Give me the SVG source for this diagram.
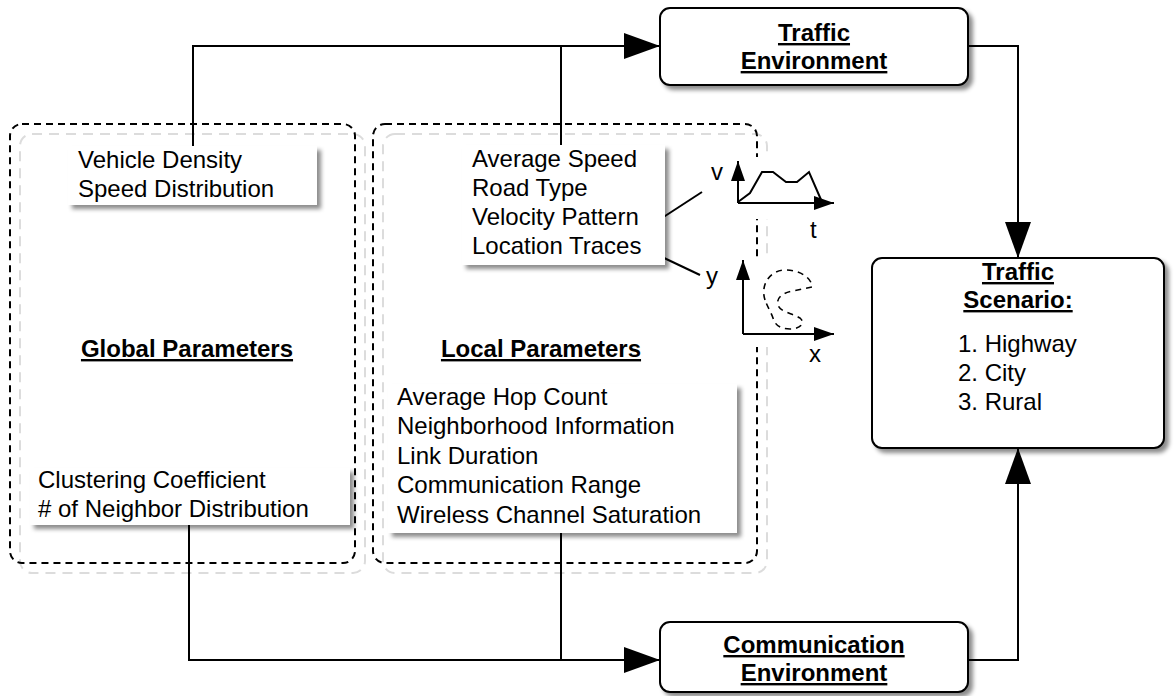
<svg xmlns="http://www.w3.org/2000/svg" width="1174" height="696" viewBox="0 0 1174 696">
  <defs>
    <style>
      text { font-family: "Liberation Sans", Arial, Helvetica, sans-serif; font-size: 24px; fill: #000; }
      .title { font-weight: bold; text-decoration: underline; text-anchor: middle; }
      .frame { fill: none; stroke: #000; stroke-width: 2; stroke-dasharray: 7 5; }
      .frame-shade { fill: none; stroke: #dcdcdc; stroke-width: 2; stroke-dasharray: 10 7; }
      .node { fill: #fff; stroke: #000; stroke-width: 2; filter: url(#shadow); }
      .card { fill: #fff; filter: url(#shadow); }
      .conn { fill: none; stroke: #000; stroke-width: 2; }
      .axis { fill: none; stroke: #000; stroke-width: 2; marker-end: url(#axisHead); }
      .plot { fill: none; stroke: #000; stroke-width: 2; }
      .trace { fill: none; stroke: #000; stroke-width: 1.6; stroke-dasharray: 6 5; }
    </style>
    <filter id="shadow" x="-10%" y="-10%" width="130%" height="150%">
      <feDropShadow dx="4" dy="4" stdDeviation="2" flood-color="#000" flood-opacity="0.45"/>
    </filter>
    <marker id="arrowHead" markerUnits="userSpaceOnUse" markerWidth="36" markerHeight="26" refX="36" refY="13" orient="auto">
      <path d="M0,0 L36,13 L0,26 Z" fill="#000"/>
    </marker>
    <marker id="axisHead" markerUnits="userSpaceOnUse" markerWidth="20" markerHeight="14" refX="20" refY="7" orient="auto">
      <path d="M0,0 L20,7 L0,14 Z" fill="#000"/>
    </marker>
  </defs>

  <rect width="1174" height="696" fill="#fff"/>

  <!-- parameter groups (dashed frames with a light offset outline) -->
  <g id="global-parameters">
    <rect class="frame-shade" x="20" y="134" width="345" height="439" rx="12"/>
    <rect class="frame" x="10" y="124" width="345" height="439" rx="12"/>
    <text class="title" x="187" y="357">Global Parameters</text>
  </g>
  <g id="local-parameters">
    <rect class="frame-shade" x="383" y="134" width="384" height="439" rx="12"/>
    <rect class="frame" x="373" y="124" width="384" height="439" rx="12"/>
    <text class="title" x="541" y="357">Local Parameters</text>
  </g>

  <!-- connectors -->
  <g id="connectors">
    <path class="conn" d="M193,146 V46 H660" marker-end="url(#arrowHead)"/>
    <path class="conn" d="M561,145 V46"/>
    <path class="conn" d="M189,525 V660 H660" marker-end="url(#arrowHead)"/>
    <path class="conn" d="M561,533 V660"/>
    <path class="conn" d="M968,46 H1018 V258" marker-end="url(#arrowHead)"/>
    <path class="conn" d="M968,660 H1018 V448" marker-end="url(#arrowHead)"/>
    <path class="conn" d="M662,218 L702,192"/>
    <path class="conn" d="M662,257 L700,275"/>
  </g>

  <!-- parameter cards -->
  <g id="card-vehicle">
    <rect class="card" x="68" y="146" width="249" height="59"/>
    <text x="78" y="168">Vehicle Density</text>
    <text x="78" y="197">Speed Distribution</text>
  </g>
  <g id="card-clustering">
    <rect class="card" x="30" y="468" width="320" height="57"/>
    <text x="38" y="488">Clustering Coefficient</text>
    <text x="38" y="517"># of Neighbor Distribution</text>
  </g>
  <g id="card-mobility">
    <rect class="card" x="462" y="145" width="203" height="120"/>
    <text x="472" y="167">Average Speed</text>
    <text x="472" y="196">Road Type</text>
    <text x="472" y="225">Velocity Pattern</text>
    <text x="472" y="254">Location Traces</text>
  </g>
  <g id="card-network">
    <rect class="card" x="388" y="384" width="349" height="149"/>
    <text x="397" y="405">Average Hop Count</text>
    <text x="397" y="434">Neighborhood Information</text>
    <text x="397" y="464">Link Duration</text>
    <text x="397" y="493">Communication Range</text>
    <text x="397" y="523">Wireless Channel Saturation</text>
  </g>

  <!-- velocity over time sketch -->
  <g id="velocity-plot">
    <rect x="704" y="157" width="132" height="62" fill="#fff"/>
    <text x="711" y="180">v</text>
    <path class="axis" d="M738,203 V161"/>
    <path class="axis" d="M738,203 H834"/>
    <path class="plot" d="M738,202 L750,193 L762,172 L773,172 L786,182 L797,182 L809,172 L822,202"/>
    <text x="810" y="238">t</text>
  </g>

  <!-- location trace sketch -->
  <g id="location-plot">
    <rect x="704" y="259" width="132" height="88" fill="#fff"/>
    <text x="706" y="284">y</text>
    <path class="axis" d="M743,334 V260"/>
    <path class="axis" d="M743,334 H834"/>
    <path class="trace" d="M765,300 C760,285 770,270 785,270 C800,270 812,278 812,287 L793,291 C782,293 776,298 778,305 C780,312 792,313 800,318 C806,323 800,329 790,329 C780,329 775,325 773,318 C771,312 768,308 765,300 Z"/>
    <text x="809" y="362">x</text>
  </g>

  <!-- environment and scenario nodes -->
  <g id="traffic-environment">
    <rect class="node" x="660" y="8" width="308" height="77" rx="10"/>
    <text class="title" x="814" y="41">Traffic</text>
    <text class="title" x="814" y="69">Environment</text>
  </g>
  <g id="communication-environment">
    <rect class="node" x="660" y="622" width="308" height="70" rx="10"/>
    <text class="title" x="814" y="653">Communication</text>
    <text class="title" x="814" y="681">Environment</text>
  </g>
  <g id="traffic-scenario">
    <rect class="node" x="872" y="258" width="292" height="190" rx="10"/>
    <text class="title" x="1018" y="280">Traffic</text>
    <text class="title" x="1018" y="308">Scenario:</text>
    <text x="958" y="352">1. Highway</text>
    <text x="958" y="381">2. City</text>
    <text x="958" y="410">3. Rural</text>
  </g>
</svg>
